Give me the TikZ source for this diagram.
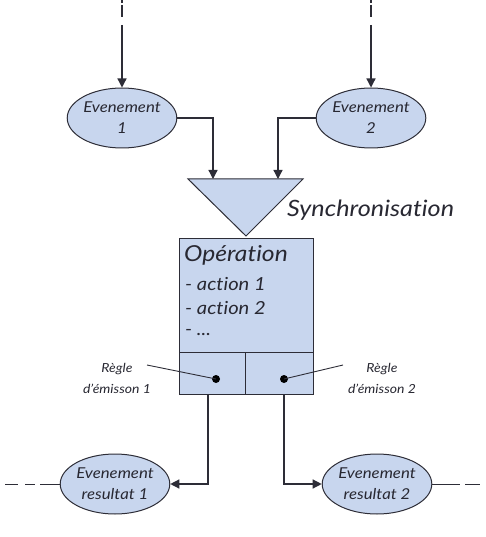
\documentclass[tikz,border=0pt]{standalone}
\usepackage{fontspec}
\setmainfont[FakeStretch=1.12,Ligatures=NoCommon]{Lato}
\usetikzlibrary{arrows.meta,shapes.geometric}
\definecolor{fillb}{RGB}{200,214,238}
\definecolor{txt}{RGB}{40,40,50}
\definecolor{edge}{RGB}{45,45,55}
\tikzset{
  ev/.style={ellipse, draw=edge, line width=1pt, fill=fillb, minimum width=100pt, minimum height=60pt, inner sep=0pt, align=center, text=txt, font=\itshape\fontsize{15}{21}\selectfont},
  conn/.style={draw=edge, line width=1.3pt},
  arr/.style={conn, -{Triangle[length=9pt,width=9pt]}},
  boxc/.style={rectangle, draw=edge, line width=1pt, fill=fillb, inner sep=0pt},
  lbl/.style={text=txt, font=\itshape\fontsize{12.5}{21}\selectfont, align=center, inner sep=0pt},
  boxtxt/.style={text=txt, anchor=west, inner sep=0pt, font=\itshape\fontsize{18}{20}\selectfont},
}
\begin{document}
\begin{tikzpicture}[x=1pt,y=-1pt]
\useasboundingbox (0,0) rectangle (486,537);
% events
\node[ev] (e1) at (122,118) {Evenement\\1};
\node[ev] (e2) at (371,118) {Evenement\\2};
\node[ev] (e3) at (115,484) {Evenement\\resultat 1};
\node[ev] (e4) at (377,484) {Evenement\\resultat 2};
% top incoming
\coordinate (t1a) at (122,0); \coordinate (t1b) at (122,3); \coordinate (t1c) at (122,5); \coordinate (t1d) at (122,17); \coordinate (t1e) at (122,25);
\coordinate (t2a) at (371,0); \coordinate (t2b) at (371,3); \coordinate (t2c) at (371,5); \coordinate (t2d) at (371,17); \coordinate (t2e) at (371,25);
\draw[conn] (t1a) -- (t1b) (t1c) -- (t1d);
\draw[conn] (t2a) -- (t2b) (t2c) -- (t2d);
\draw[arr] (t1e) -- (e1.north);
\draw[arr] (t2e) -- (e2.north);
% synchronisation triangle
\coordinate (tl) at (188,179); \coordinate (tr) at (303,179); \coordinate (tap) at (246,236);
\draw[edge, line width=1pt, fill=fillb, line join=miter] (tl) -- (tr) -- (tap) -- cycle;
\coordinate (s1) at (213,179); \coordinate (s2) at (278,179);
\node[text=txt, anchor=west, inner sep=0pt, font=\itshape\fontsize{22.5}{24}\selectfont] (sync) at (287,210) {Synchronisation};
\draw[arr] (e1.east) -| (s1);
\draw[arr] (e2.west) -| (s2);
% operation box
\node[boxc, minimum width=134pt, minimum height=114pt] (op) at (246,295) {};
\node[boxc, minimum width=66pt, minimum height=42pt] (r1) at (212,373) {};
\node[boxc, minimum width=68pt, minimum height=42pt] (r2) at (279,373) {};
\node[boxtxt, font=\itshape\fontsize{22}{24}\selectfont] (optitle) at (184,255) {Opération};
\node[boxtxt] (a1) at (185,284) {- action 1};
\node[boxtxt] (a2) at (185,308) {- action 2};
\node[boxtxt] (a3) at (185,333) {- ...};
% rule dots and labels
\fill[black] (216,379) circle (4pt) coordinate (d1);
\fill[black] (284,379) circle (4pt) coordinate (d2);
\node[lbl] (l1) at (117,378) {Règle\\d'émisson 1};
\node[lbl] (l2) at (382,378) {Règle\\d'émisson 2};
\coordinate (l1p) at (147,365); \coordinate (l2p) at (343,365);
\draw[edge, line width=0.9pt] (l1p) -- (d1);
\draw[edge, line width=0.9pt] (l2p) -- (d2);
% outgoing
\coordinate (b1) at (208,394); \coordinate (b2) at (284,394);
\draw[arr] (b1) |- (e3.east);
\draw[arr] (b2) |- (e4.west);
% side dashed lines
\coordinate (h1) at (5,484); \coordinate (h2) at (18,484); \coordinate (h3) at (25,484); \coordinate (h4) at (35,484); \coordinate (h5) at (40,484);
\draw[conn, line width=1pt] (h1) -- (h2) (h3) -- (h4);
\draw[conn, line width=1pt] (h5) -- (e3.west);
\coordinate (k1) at (460,484); \coordinate (k2) at (465,484); \coordinate (k3) at (480,484);
\draw[conn, line width=1pt] (e4.east) -- (k1);
\draw[conn, line width=1pt] (k2) -- (k3);
\end{tikzpicture}
\end{document}
